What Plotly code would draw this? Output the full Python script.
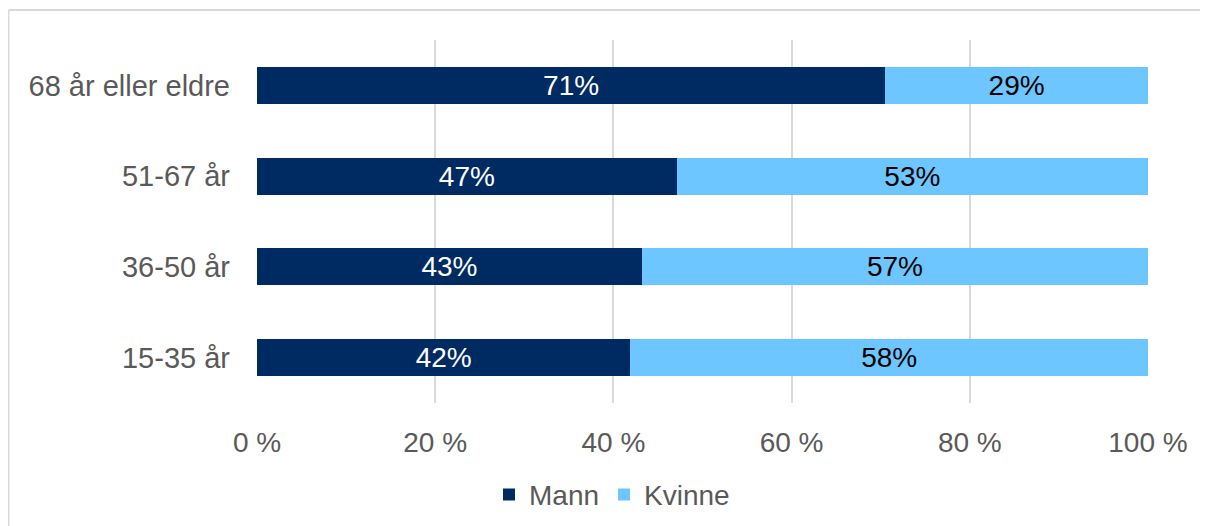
import plotly.graph_objects as go

categories = ["15-35 år", "36-50 år", "51-67 år", "68 år eller eldre"]
mann = [41.9, 43.2, 47.1, 70.5]
kvinne = [58.1, 56.8, 52.9, 29.5]
mann_labels = ["42%", "43%", "47%", "71%"]
kvinne_labels = ["58%", "57%", "53%", "29%"]
x_ticks = [0, 20, 40, 60, 80, 100]
x_tick_labels = ["0 %", "20 %", "40 %", "60 %", "80 %", "100 %"]

FONT = "Liberation Sans, Arial, sans-serif"
FS = 28

fig = go.Figure()
fig.add_trace(go.Bar(
    y=categories, x=mann, name="Mann", orientation="h",
    marker=dict(color="#002A62", line=dict(width=0)),
    text=mann_labels, textposition="inside", insidetextanchor="middle",
    textfont=dict(family=FONT, size=FS, color="white"),
    hoverinfo="skip",
))
fig.add_trace(go.Bar(
    y=categories, x=kvinne, name="Kvinne", orientation="h",
    marker=dict(color="#6DC6FF", line=dict(width=0)),
    text=kvinne_labels, textposition="inside", insidetextanchor="middle",
    textfont=dict(family=FONT, size=FS, color="black"),
    hoverinfo="skip",
))

W, H = 1200, 518
L, T, PW, PH = 249, 32, 891, 363
bx0 = (0.5 - L) / PW
bx1 = (W + 20 - L) / PW
by0 = (PH + T - H - 20) / PH
by1 = 1 + (T - 2) / PH
border = dict(color="#D9D9D9", width=2)
fig.update_layout(
    barmode="stack",
    bargap=0.59,
    width=W, height=H,
    autosize=False,
    margin=dict(l=L, r=W - L - PW, t=T, b=H - T - PH, autoexpand=False),
    paper_bgcolor="white", plot_bgcolor="white",
    font=dict(family=FONT, size=FS, color="#595959"),
    legend=dict(
        orientation="h", x=(604 - L) / PW, xanchor="center",
        y=-0.253, yanchor="middle", traceorder="normal",
        font=dict(family=FONT, size=FS, color="#595959"),
        itemwidth=30,
    ),
    xaxis=dict(
        range=[0, 100], tickvals=x_ticks, ticktext=x_tick_labels,
        showgrid=True, gridcolor="#D9D9D9", gridwidth=2,
        zeroline=False, showline=False, ticks="",
        tickangle=0, automargin=False,
        ticklabelstandoff=20,
        tickfont=dict(family=FONT, size=FS, color="#595959"),
        fixedrange=True,
    ),
    yaxis=dict(
        showgrid=False, zeroline=False, showline=False, ticks="",
        automargin=False,
        ticklabelstandoff=26,
        tickfont=dict(family=FONT, size=29, color="#595959"),
        fixedrange=True,
    ),
    shapes=[
        dict(type="line", xref="paper", yref="paper",
             x0=bx0, x1=bx1, y0=by1, y1=by1, line=border, layer="below"),
        dict(type="line", xref="paper", yref="paper",
             x0=bx0, x1=bx0, y0=by0, y1=by1, line=border, layer="below"),
    ],
)

fig.write_html("out.html")
